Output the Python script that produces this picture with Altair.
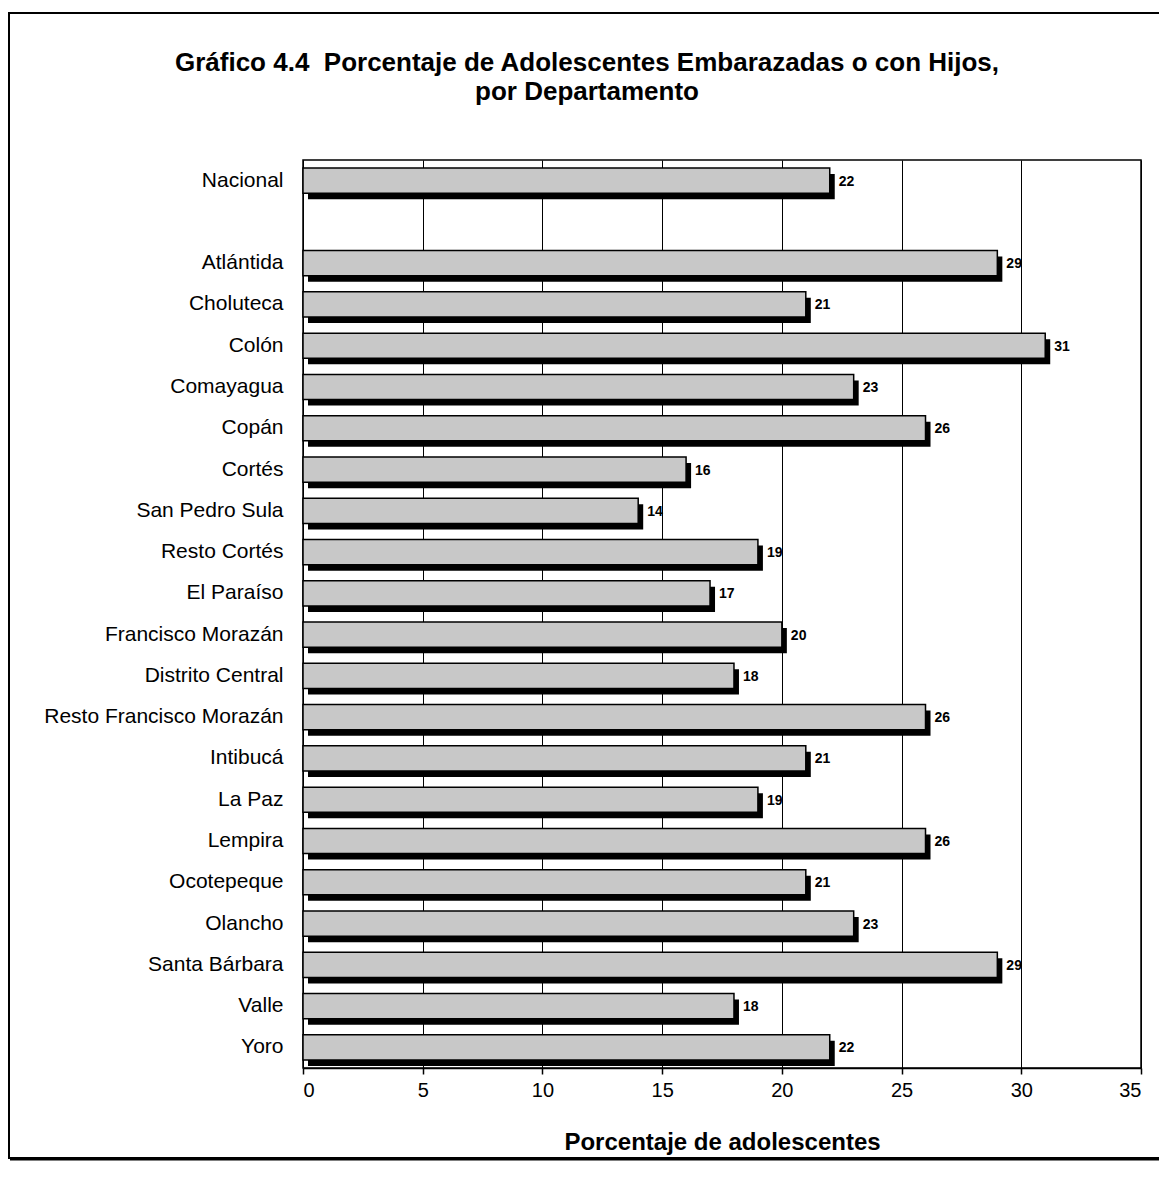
import altair as alt
import pandas as pd

FONT = "Liberation Sans"

categories = ["Nacional", " ", "Atlántida", "Choluteca", "Colón", "Comayagua", "Copán",
              "Cortés", "San Pedro Sula", "Resto Cortés", "El Paraíso", "Francisco Morazán",
              "Distrito Central", "Resto Francisco Morazán", "Intibucá", "La Paz", "Lempira",
              "Ocotepeque", "Olancho", "Santa Bárbara", "Valle", "Yoro"]
bar_names = [c for c in categories if c.strip()]
values = [22, 29, 21, 31, 23, 26, 16, 14, 19, 17, 20, 18, 26, 21, 19, 26, 21, 23, 29, 18, 22]
x_ticks = [0, 5, 10, 15, 20, 25, 30, 35]
title_lines = ["Gráfico 4.4 \u00a0Porcentaje de Adolescentes Embarazadas o con Hijos,",
               "por Departamento"]
x_title = "Porcentaje de adolescentes"

df = pd.DataFrame({"dep": bar_names, "pct": values})

y_enc = alt.Y("dep:N",
              scale=alt.Scale(domain=categories, paddingInner=0.39, paddingOuter=0.195),
              axis=alt.Axis(title=None, ticks=False, domain=False, labelFontSize=21,
                            labelPadding=20, labelColor="black", labelFont=FONT,
                            labelLimit=0))
x_enc = alt.X("pct:Q",
              scale=alt.Scale(domain=[0, 35], nice=False, zero=True),
              axis=alt.Axis(values=x_ticks, title=x_title, grid=True, gridColor="black",
                            gridWidth=1, gridOpacity=1, domainColor="black", domainWidth=1.5,
                            tickColor="black", tickSize=6, tickWidth=1.5,
                            labelFontSize=20, labelColor="black", labelFont=FONT,
                            labelPadding=6, titleFont=FONT, titleFontSize=24,
                            titleFontWeight="bold", titleColor="black", titlePadding=30))

base = alt.Chart(df)

shadow = base.mark_bar(color="black", xOffset=5, x2Offset=5, yOffset=6, y2Offset=6).encode(
    x=x_enc, y=y_enc)
bars = base.mark_bar(fill="#C8C8C8", stroke="black", strokeWidth=1.5).encode(
    x=x_enc, y=y_enc)
labels = base.mark_text(align="left", baseline="middle", dx=9, dy=1, fontWeight="bold",
                        fontSize=14, font=FONT, color="black").encode(
    x=x_enc, y=y_enc, text="pct:Q")

one = pd.DataFrame({"t1": [title_lines[0]], "t2": [title_lines[1]]})
t1 = alt.Chart(one).mark_text(fontSize=26, fontWeight="bold", font=FONT, color="black",
                              align="center", baseline="alphabetic").encode(
    x=alt.value(284), y=alt.value(-89), text="t1:N")
t2 = alt.Chart(one).mark_text(fontSize=26, fontWeight="bold", font=FONT, color="black",
                              align="center", baseline="alphabetic").encode(
    x=alt.value(284), y=alt.value(-60), text="t2:N")

border = alt.Chart(one).mark_rect(fillOpacity=0, stroke="black", strokeWidth=2).encode(
    x=alt.value(-294), x2=alt.value(870), y=alt.value(-147), y2=alt.value(998))
border_bottom = alt.Chart(one).mark_rule(color="black", strokeWidth=3).encode(
    x=alt.value(-293), x2=alt.value(870), y=alt.value(999))

chart = alt.layer(border, border_bottom, t1, t2, shadow, bars, labels).properties(
    width=838, height=908,
    padding={"left": 295, "top": 152, "right": 18, "bottom": 94},
    autosize=alt.AutoSizeParams(type="none"),
    background="white",
).configure_view(stroke="black", strokeWidth=1.5)

chart.save("out.html", embed_options={"renderer": "svg", "actions": False})
